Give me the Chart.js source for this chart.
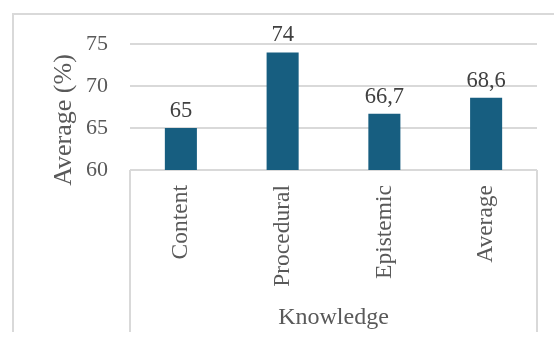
<!DOCTYPE html>
<html>
<head>
<meta charset="utf-8">
<script src="https://cdn.jsdelivr.net/npm/chart.js@4.4.0/dist/chart.umd.min.js"></script>
<style>
  html, body { margin: 0; padding: 0; background: #ffffff; }
  #wrap { width: 554px; height: 338px; position: relative; }
</style>
</head>
<body>
<div id="wrap"><canvas id="c" width="554" height="338"></canvas></div>
<script>
const categories = ["Content", "Procedural", "Epistemic", "Average"];
const averages = [65, 74, 66.7, 68.6];
const yTicks = [60, 65, 70, 75];
const yTitle = "Average (%)";
const xTitle = "Knowledge";

const SERIF = "'Liberation Serif', 'Times New Roman', serif";
const GRID = "#d9d9d9";

const framePlugin = {
  id: 'frame',
  beforeDraw(chart) {
    const ctx = chart.ctx;
    const a = chart.chartArea;
    ctx.save();
    ctx.strokeStyle = GRID;
    ctx.lineWidth = 2;
    ctx.beginPath();
    // outer frame (left + top)
    ctx.moveTo(13, 332);
    ctx.lineTo(13, 14);
    ctx.lineTo(554, 14);
    // category box verticals
    ctx.moveTo(a.left, a.bottom);
    ctx.lineTo(a.left, 332);
    ctx.moveTo(a.right, a.bottom);
    ctx.lineTo(a.right, 332);
    ctx.stroke();
    ctx.restore();
  },
  afterDraw(chart) {
    const ctx = chart.ctx;
    const a = chart.chartArea;
    ctx.save();
    // y axis title
    ctx.fillStyle = "#595959";
    ctx.font = "26px " + SERIF;
    ctx.textAlign = "center";
    ctx.textBaseline = "middle";
    ctx.translate(64, (a.top + a.bottom) / 2 + 13);
    ctx.rotate(-Math.PI / 2);
    ctx.fillText(yTitle, 0, 0);
    ctx.restore();
    // data labels
    ctx.save();
    ctx.fillStyle = "#404040";
    ctx.font = "22.5px " + SERIF;
    ctx.textAlign = "center";
    ctx.textBaseline = "alphabetic";
    const meta = chart.getDatasetMeta(0);
    meta.data.forEach((bar, i) => {
      const txt = String(averages[i]).replace('.', ',');
      ctx.fillText(txt, bar.x, bar.y - 11);
    });
    ctx.restore();
  }
};

new Chart(document.getElementById('c'), {
  type: 'bar',
  data: {
    labels: categories,
    datasets: [{
      data: averages,
      backgroundColor: "#175e80",
      borderWidth: 0,
      categoryPercentage: 1,
      barPercentage: 0.315
    }]
  },
  options: {
    responsive: false,
    animation: false,
    devicePixelRatio: 1,
    layout: { padding: { top: 44, right: 17, left: 0, bottom: 0 } },
    plugins: { legend: { display: false }, tooltip: { enabled: false } },
    scales: {
      x: {
        grid: { display: false, drawTicks: false },
        border: { display: false },
        ticks: {
          autoSkip: false,
          minRotation: 90,
          maxRotation: 90,
          padding: 15,
          color: "#595959",
          font: { family: SERIF, size: 23.5 }
        },
        title: {
          display: true,
          text: xTitle,
          color: "#595959",
          font: { family: SERIF, size: 24 },
          padding: { top: 0, bottom: 6 }
        },
        afterFit(scale) { scale.height = 168; }
      },
      y: {
        min: 60,
        max: 75,
        grid: { color: GRID, lineWidth: 2, drawTicks: false },
        border: { display: false },
        afterBuildTicks(scale) { scale.ticks = yTicks.map(v => ({ value: v })); },
        ticks: {
          padding: 22,
          color: "#595959",
          font: { family: SERIF, size: 22 }
        },
        afterFit(scale) { scale.width = 130; }
      }
    }
  },
  plugins: [framePlugin]
});
</script>
</body>
</html>
